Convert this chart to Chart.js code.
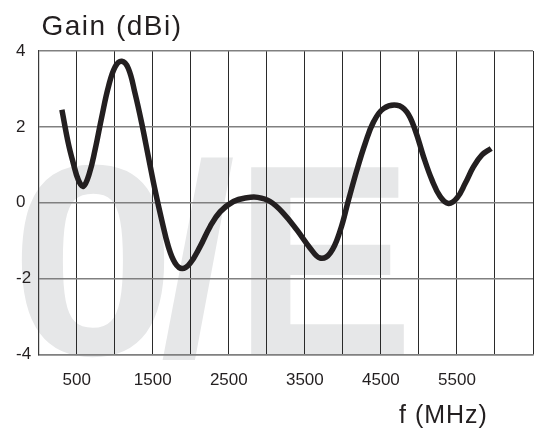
<!DOCTYPE html>
<html>
<head>
<meta charset="utf-8">
<script src="https://cdn.jsdelivr.net/npm/chart.js@4.4.1/dist/chart.umd.min.js"></script>
<style>
  html, body { margin: 0; padding: 0; background: #fff; }
  #wrap { width: 538px; height: 435px; position: relative; }
</style>
</head>
<body>
<div id="wrap"><canvas id="myChart"></canvas></div>
<script>
// frequency (MHz) and gain (dBi)
const freqs = [305, 390, 455, 521, 587, 666, 741, 829, 916, 1004, 1092, 1179, 1267, 1355, 1442,
  1530, 1618, 1705, 1793, 1888, 1991, 2122, 2254, 2386, 2561, 2737, 2880, 3043, 3218, 3395,
  3570, 3700, 3833, 3964, 4074, 4184, 4293, 4403, 4534, 4711, 4842, 4951, 5061, 5171, 5280,
  5390, 5500, 5609, 5718, 5829, 5950];
const gains = [2.45, 1.56, 1.04, 0.60, 0.43, 0.77, 1.39, 2.26, 3.05, 3.58, 3.73, 3.54, 2.88, 2.09, 1.21,
  0.33, -0.46, -1.16, -1.59, -1.74, -1.60, -1.16, -0.63, -0.24, 0.03, 0.13, 0.14, 0.03, -0.28, -0.72,
  -1.20, -1.46, -1.33, -0.74, 0.07, 0.86, 1.56, 2.13, 2.48, 2.57, 2.39, 1.91, 1.21, 0.60, 0.16,
  -0.02, 0.12, 0.51, 0.95, 1.26, 1.43];
const xTickLabels = ["500", "1500", "2500", "3500", "4500", "5500"];
const yTicks = [-4, -2, 0, 2, 4];

const ink = "#231f20";
const fontFam = '"Liberation Sans", Arial, Helvetica, sans-serif';

const points = freqs.map((f, i) => ({ x: f, y: gains[i] }));

// grey "0/E" watermark behind the grid, plus the two axis titles
const decor = {
  id: "decor",
  beforeDraw(chart) {
    const c = chart.ctx;
    c.save();
    c.fillStyle = "#e6e7e8";
    c.font = "bold 272px " + fontFam;
    c.textBaseline = "alphabetic";
    c.save();
    c.translate(10, 354.5);
    c.scale(1.1, 1);
    c.fillText("0", 0, 0);
    c.restore();
    c.fillText("/", 160, 354.5);
    c.fillText("E", 233, 354.5);
    c.restore();
  },
  afterDraw(chart) {
    const c = chart.ctx;
    c.save();
    c.fillStyle = ink;
    c.textBaseline = "alphabetic";
    c.font = "28px " + fontFam;
    c.letterSpacing = "1.5px";
    c.fillText("Gain (dBi)", 41.5, 34.5);
    c.font = "25px " + fontFam;
    c.letterSpacing = "1px";
    c.fillText("f (MHz)", 399, 423);
    c.restore();
  },
};

const ctx = document.getElementById("myChart");
const myChart = new Chart(ctx, {
  type: "line",
  data: {
    datasets: [
      {
        data: points,
        borderColor: ink,
        borderWidth: 5.5,
        pointRadius: 0,
        fill: false,
        tension: 0.4,
        borderCapStyle: "butt",
      },
    ],
  },
  options: {
    responsive: true,
    maintainAspectRatio: false,
    animation: false,
    layout: { padding: { left: 16, top: 51, right: 5, bottom: 0 } },
    plugins: {
      legend: { display: false },
      tooltip: { enabled: false },
    },
    scales: {
      x: {
        type: "linear",
        min: 0,
        max: 6500,
        afterFit: (scale) => {
          scale.height = 80.7;
          scale.paddingLeft = 0;
          scale.paddingRight = 0;
        },
        ticks: {
          stepSize: 500,
          autoSkip: false,
          maxRotation: 0,
          padding: 16,
          color: ink,
          font: { family: fontFam, size: 17 },
          callback: (v) => (xTickLabels.includes(String(v)) ? String(v) : ""),
        },
        grid: { color: "#2a2a2a", lineWidth: 1, drawTicks: false },
        border: { color: "#808080", width: 1.5 },
      },
      y: {
        min: -4,
        max: 4,
        afterFit: (scale) => {
          scale.width = 22.7;
          scale.paddingTop = 0;
          scale.paddingBottom = 0;
        },
        afterBuildTicks: (scale) => { scale.ticks = yTicks.map((v) => ({ value: v })); },
        ticks: {
          crossAlign: "far",
          padding: 0,
          color: ink,
          font: { family: fontFam, size: 17 },
        },
        grid: { color: "#808080", lineWidth: 1.5, drawTicks: false },
        border: { color: "#3a3a3a", width: 1.2 },
      },
    },
  },
  plugins: [decor],
});
</script>
</body>
</html>
